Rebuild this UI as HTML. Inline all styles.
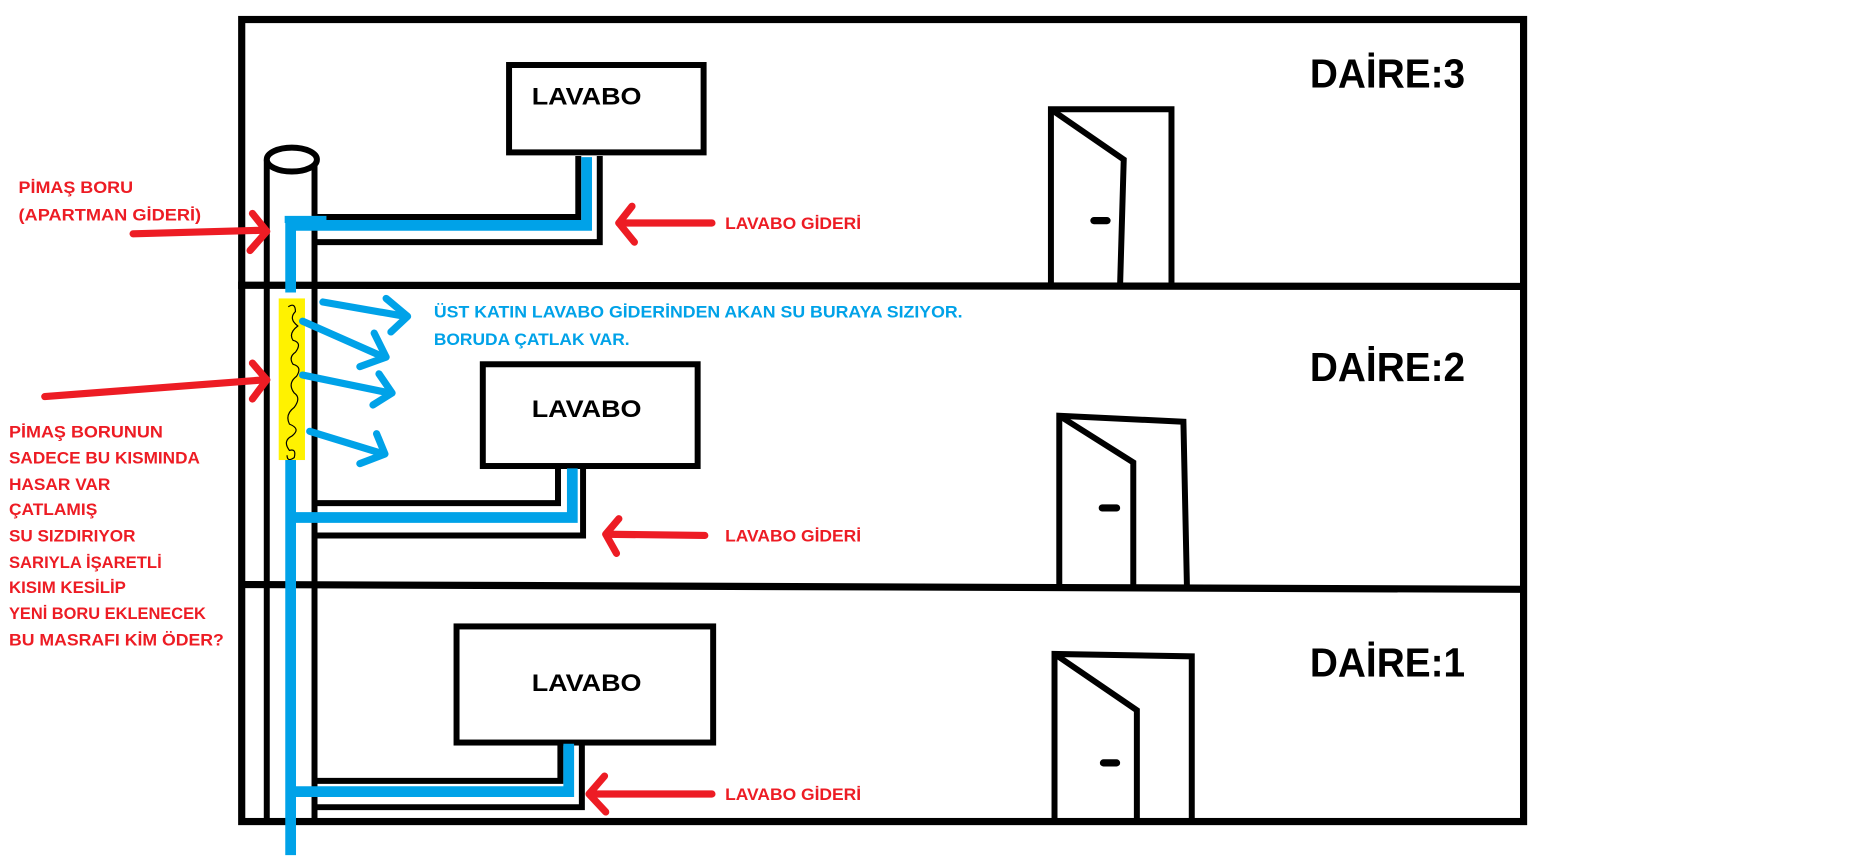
<!DOCTYPE html>
<html><head><meta charset="utf-8"><style>
html,body{margin:0;padding:0;background:#fff;}
svg{display:block}
text{font-family:"Liberation Sans",sans-serif;font-weight:bold;}
.r{fill:#ed1c24;font-size:14px}
.b{fill:#00a2e8;font-size:14px}
.k{fill:#000;font-size:20px}
.d{fill:#000;font-size:34px}
</style></head><body>
<svg width="1876" height="859" viewBox="0 0 1560 714" preserveAspectRatio="none" xmlns="http://www.w3.org/2000/svg">
<g transform="matrix(0.9925,0,0,0.995,1.5,0.3)">
<g fill="none" stroke="#000" stroke-width="6">
<rect x="201" y="16" width="1074" height="670"/>
<line x1="198" y1="238" x2="1275" y2="239"/>
<line x1="201" y1="488" x2="1275" y2="492"/>
</g>
<g fill="none" stroke="#000" stroke-width="5">
<line x1="222" y1="133" x2="222" y2="686"/>
<line x1="262" y1="133" x2="262" y2="686"/>
<ellipse cx="243" cy="133" rx="21" ry="10" fill="#fff"/>
<rect x="425" y="54" width="163" height="73"/>
<rect x="403" y="304" width="180" height="85"/>
<rect x="381" y="523" width="215" height="97"/>
<polyline points="262,181 483,181 483,130"/>
<polyline points="262,202 501,202 501,130"/>
<polyline points="262,420 466,420 466,390"/>
<polyline points="262,447 487,447 487,390"/>
<polyline points="262,652 468,652 468,620"/>
<polyline points="262,674 486,674 486,620"/>
<polyline points="879,236 879,91 980,91 980,236"/>
<polyline points="879,91 940,133 937,236"/>
<polyline points="886,488 886,347 990,352 993,492"/>
<polyline points="886,347 948,386 948,488"/>
<polyline points="882,686 882,546 997,548 997,686"/>
<polyline points="882,546 951,593 951,686"/>
</g>
<g stroke="#000" stroke-width="6" stroke-linecap="round">
<line x1="915" y1="184" x2="926" y2="184"/>
<line x1="922" y1="424" x2="934" y2="424"/>
<line x1="923" y1="637" x2="934" y2="637"/>
</g>
<rect x="232" y="249" width="22" height="135" fill="#fff200"/>
<path d="M240 256 q6 -4 6 4 q-6 6 2 12 q-8 6 -4 12 q8 2 2 10 q-6 4 -2 10 q8 2 3 10 q-8 6 -2 14 q6 4 0 12 q-8 6 -4 14 q10 4 2 10 q-8 4 -2 12 q6 -2 4 6 q-6 4 -6 -2" fill="none" stroke="#000" stroke-width="1"/>
<g fill="none" stroke="#00a2e8" stroke-width="9">
<polyline points="242,244 242,188 490,188 490,131"/>
<line x1="237" y1="183" x2="272" y2="183" stroke-width="6"/>
<polyline points="242,384 242,714"/>
<polyline points="242,432 478,432 478,391"/>
<polyline points="242,661 475,661 475,621"/>
</g>
<g fill="none" stroke="#00a2e8" stroke-width="6" stroke-linecap="round" stroke-linejoin="round">
<line x1="269" y1="252" x2="338" y2="264"/><polyline points="322,249 340,264 326,277"/>
<line x1="252" y1="268" x2="320" y2="298"/><polyline points="312,278 322,298 300,306"/>
<line x1="252" y1="313" x2="325" y2="328"/><polyline points="316,312 327,328 311,338"/>
<line x1="258" y1="360" x2="320" y2="379"/><polyline points="314,362 321,379 300,387"/>
</g>
<g fill="none" stroke="#ed1c24" stroke-width="6" stroke-linecap="round" stroke-linejoin="round">
<line x1="110" y1="195" x2="220" y2="192"/><polyline points="210,178 222,193 208,209"/>
<line x1="36" y1="331" x2="220" y2="317"/><polyline points="210,303 222,317 210,333"/>
<line x1="595" y1="186" x2="517" y2="186"/><polyline points="528,172 517,186 530,202"/>
<line x1="589" y1="447" x2="507" y2="446"/><polyline points="517,433 506,446 515,462"/>
<line x1="595" y1="663" x2="493" y2="663"/><polyline points="505,648 492,663 506,678"/>
</g>
<text class="k" x="444" y="87" textLength="92" lengthAdjust="spacingAndGlyphs">LAVABO</text>
<text class="k" x="444" y="348" textLength="92" lengthAdjust="spacingAndGlyphs">LAVABO</text>
<text class="k" x="444" y="577" textLength="92" lengthAdjust="spacingAndGlyphs">LAVABO</text>
<text class="d" x="1096" y="73" textLength="130" lengthAdjust="spacingAndGlyphs">DAİRE:3</text>
<text class="d" x="1096" y="318" textLength="130" lengthAdjust="spacingAndGlyphs">DAİRE:2</text>
<text class="d" x="1096" y="565" textLength="130" lengthAdjust="spacingAndGlyphs">DAİRE:1</text>
<text class="r" x="606" y="191" textLength="114" lengthAdjust="spacingAndGlyphs">LAVABO GİDERİ</text>
<text class="r" x="606" y="452" textLength="114" lengthAdjust="spacingAndGlyphs">LAVABO GİDERİ</text>
<text class="r" x="606" y="668" textLength="114" lengthAdjust="spacingAndGlyphs">LAVABO GİDERİ</text>
<text class="r" x="14" y="161" textLength="96" lengthAdjust="spacingAndGlyphs">PİMAŞ BORU</text>
<text class="r" x="14" y="184" textLength="153" lengthAdjust="spacingAndGlyphs">(APARTMAN GİDERİ)</text>
<text class="r" x="6" y="365" textLength="129" lengthAdjust="spacingAndGlyphs">PİMAŞ BORUNUN</text>
<text class="r" x="6" y="387" textLength="160" lengthAdjust="spacingAndGlyphs">SADECE BU KISMINDA</text>
<text class="r" x="6" y="409" textLength="85" lengthAdjust="spacingAndGlyphs">HASAR VAR</text>
<text class="r" x="6" y="430" textLength="74" lengthAdjust="spacingAndGlyphs">ÇATLAMIŞ</text>
<text class="r" x="6" y="452" textLength="106" lengthAdjust="spacingAndGlyphs">SU SIZDIRIYOR</text>
<text class="r" x="6" y="474" textLength="128" lengthAdjust="spacingAndGlyphs">SARIYLA İŞARETLİ</text>
<text class="r" x="6" y="495" textLength="98" lengthAdjust="spacingAndGlyphs">KISIM KESİLİP</text>
<text class="r" x="6" y="517" textLength="165" lengthAdjust="spacingAndGlyphs">YENİ BORU EKLENECEK</text>
<text class="r" x="6" y="539" textLength="180" lengthAdjust="spacingAndGlyphs">BU MASRAFI KİM ÖDER?</text>
<text class="b" x="362" y="265" textLength="443" lengthAdjust="spacingAndGlyphs">ÜST KATIN LAVABO GİDERİNDEN AKAN SU BURAYA SIZIYOR.</text>
<text class="b" x="362" y="288" textLength="164" lengthAdjust="spacingAndGlyphs">BORUDA ÇATLAK VAR.</text>
</g>
</svg>
</body></html>
